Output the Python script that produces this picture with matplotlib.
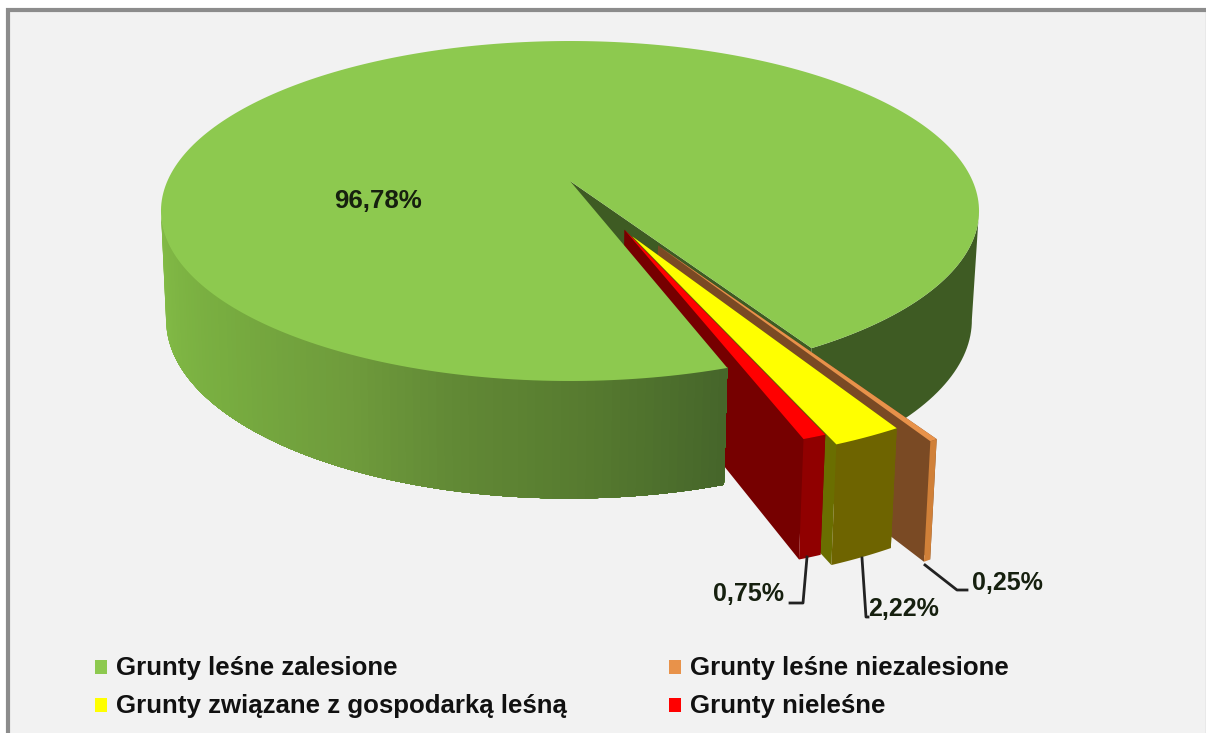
import numpy as np
import matplotlib
matplotlib.use("Agg")
import matplotlib.pyplot as plt
from matplotlib.patches import Polygon, Rectangle

# data
categories = ["Grunty leśne zalesione", "Grunty leśne niezalesione",
              "Grunty związane z gospodarką leśną", "Grunty nieleśne"]
values = [96.78, 0.25, 2.22, 0.75]
explode = [0.0, 0.42, 0.35, 0.31]
explode_shift = [0.0, 1.0, 1.0, -4.2]   # degrees off the slice bisector

top_colors = ["#8DC94F", "#E8924A", "#FFFF00", "#FF0000"]
radial_colors = ["#3E5B23", "#7A4A24", "#6A6E00", "#760000"]
outer_colors = ["#3E5B23", "#D08038", "#6E6400", "#900000"]

plt.rcParams['font.family'] = ['Liberation Sans', 'DejaVu Sans']

BG = "#F2F2F2"
START = 71.0   # angle of first slice, clockwise on screen

# pie projection, picture pixels
CX, CY = 570.0, 181.0
K, A, B = 0.1765, 164.7, 402.6


def top_xy(u, v):
    d = 1 - K * v
    return CX + B * u / d, CY + A * v / d


def bottom_xy(x, y):
    return 568 + (x - 569) * 0.985, 320 + (y - 211) * 1.05


def arc(t1, t2, off=(0, 0), n=2):
    t = np.radians(np.linspace(t1, t2, n))
    return top_xy(off[0] + np.cos(t), off[1] + np.sin(t))


def wall(ax, x1, y1, x2, y2, color, z):
    bx1, by1 = bottom_xy(x1, y1)
    bx2, by2 = bottom_xy(x2, y2)
    ax.add_patch(Polygon([(x1, y1), (x2, y2), (bx2, by2), (bx1, by1)],
                         facecolor=color, edgecolor="none", zorder=z))


def curved_wall(ax, t1, t2, off, color, z):
    # one polygon, top arc and then bottom arc back
    x, y = arc(t1, t2, off, 40)
    bx, by = bottom_xy(x, y)
    pts = list(zip(x, y)) + list(zip(bx[::-1], by[::-1]))
    ax.add_patch(Polygon(pts, facecolor=color, edgecolor="none", zorder=z))


fig = plt.figure(figsize=(12.06, 7.33), dpi=100, facecolor="white")
ax = fig.add_axes([0, 0, 1, 1])
ax.set_xlim(0, 1206)
ax.set_ylim(733, 0)
ax.axis("off")

# chart area with frame
ax.add_patch(Rectangle((8, 10), 1200, 730, facecolor=BG, edgecolor="#8C8C8C", lw=3, zorder=0))

# angles of the slices
angles = np.array(values) / sum(values) * 360
ends = START + np.cumsum(angles)
starts = ends - angles

# green notch wall and the far part of the outer wall
end_main = ends[0] % 360
xr, yr = arc(end_main, end_main)
wall(ax, CX, CY, xr[0], yr[0], radial_colors[0], 1)
curved_wall(ax, 10, end_main, (0, 0), outer_colors[0], 1)

# small exploded slices, back to front
for i in [1, 2, 3]:
    mid = np.radians((starts[i] + ends[i]) / 2 + explode_shift[i])
    off = (explode[i] * np.cos(mid), explode[i] * np.sin(mid))
    t1, t2 = starts[i] % 360, ends[i] % 360
    tip = top_xy(*off)
    x, y = arc(t1, t2, off, 8)
    # radial walls, then outer wall, then top
    wall(ax, tip[0], tip[1], x[0], y[0], radial_colors[i], 2 + i)
    wall(ax, tip[0], tip[1], x[-1], y[-1], radial_colors[i], 2 + i)
    curved_wall(ax, t1, t2, off, outer_colors[i], 2 + i)
    pts = [tip] + list(zip(x, y))
    ax.add_patch(Polygon(pts, facecolor=top_colors[i], edgecolor="none", zorder=2 + i))

# near part of green wall with the shading, strips overlap to hide seams
stops_t = [71, 80, 90, 103, 118, 140, 170]
stops_rgb = np.array([[0x45, 0x65, 0x2A], [0x4F, 0x71, 0x2D], [0x58, 0x7D, 0x30],
                      [0x61, 0x88, 0x35], [0x6F, 0x9C, 0x3C], [0x78, 0xAD, 0x40],
                      [0x84, 0xBD, 0x47]]) / 255
edges = np.linspace(170, START, 100)
for a, b in zip(edges[:-1], edges[1:]):
    x, y = arc(START, a, n=30)
    col = [np.interp((a + b) / 2, stops_t, stops_rgb[:, c]) for c in range(3)]
    bx, by = bottom_xy(x, y)
    pts = list(zip(x, y)) + list(zip(bx[::-1], by[::-1]))
    ax.add_patch(Polygon(pts, facecolor=col, edgecolor="none", zorder=7))

# green top
x, y = arc(starts[0], ends[0], n=300)
ax.add_patch(Polygon([(CX, CY)] + list(zip(x, y)), facecolor=top_colors[0],
                     edgecolor="none", zorder=8))

# value labels
labels = [f"{v:.2f}%".replace(".", ",") for v in values]
lab_kw = dict(fontweight="bold", color="#16200F", ha="center", va="center", zorder=10)
ax.text(378, 201, labels[0], fontsize=18.6, **lab_kw)
ax.text(1007, 583, labels[1], fontsize=18, **lab_kw)
ax.text(904, 609, labels[2], fontsize=18, **lab_kw)
ax.text(748, 594, labels[3], fontsize=18, **lab_kw)

# leader lines
line_kw = dict(color="#222222", lw=2, zorder=9)
ax.plot([925, 957, 967], [565, 590, 590], **line_kw)
ax.plot([862, 866, 868], [558, 617, 617], **line_kw)
ax.plot([807, 803, 790], [557, 603, 603], **line_kw)

# legend
leg_x = [95, 669, 95, 669]
leg_y = [667, 667, 705, 705]
for name, col, lx, ly in zip(categories, top_colors, leg_x, leg_y):
    ax.add_patch(Rectangle((lx, ly - 7), 12, 14, facecolor=col, edgecolor="none", zorder=9))
    ax.text(lx + 21, ly + 1, name, fontsize=18.6, fontweight="bold", color="#111111",
            ha="left", va="center", zorder=10)

fig.savefig("out.png", dpi=100, facecolor="white")
